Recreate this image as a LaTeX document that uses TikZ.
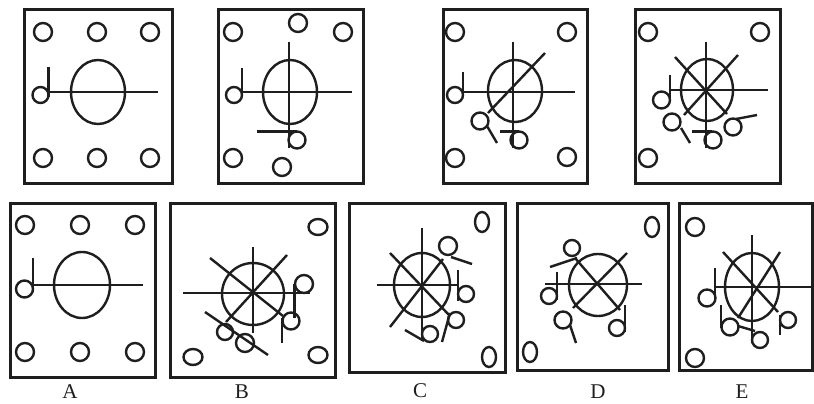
\documentclass[tikz,border=0pt]{standalone}
\usepackage{fontspec}
\setmainfont{Liberation Serif}
\begin{document}
\begin{tikzpicture}[x=1pt,y=-1pt,
  frame/.style={line width=3pt,draw=ink},
  stroke/.style={line width=2.4pt,draw=ink},
  lbl/.style={font=\fontsize{21}{22}\selectfont,text=ink,inner sep=0pt}]
\definecolor{ink}{HTML}{1E1E1E}
\useasboundingbox[fill=white] (0,0) rectangle (814,404);
% ---------- Box 1 ----------
\draw[frame] (24,10) rectangle (172,183);
\foreach \p in {(43,32),(97,32),(150,32),(43,158),(97,158),(150,158)}
  \draw[stroke] \p circle[radius=9];
\draw[stroke] (98,92) ellipse[x radius=27,y radius=32];
\draw[stroke] (48,92) -- (158,92);
\draw[stroke] (48.5,67) -- (48.5,97);
\draw[stroke] (40.5,95) circle[radius=8];
% ---------- Box 2 ----------
\draw[frame] (218,10) rectangle (363,183);
\foreach \p in {(233,32),(298,23),(343,32),(233,158),(282,167)}
  \draw[stroke] \p circle[radius=9];
\draw[stroke] (290,92) ellipse[x radius=27,y radius=32];
\draw[stroke] (242,92) -- (352,92);
\draw[stroke] (242,68) -- (242,97);
\draw[stroke] (234,95) circle[radius=8];
\draw[stroke] (289,42) -- (289,148);
\draw[stroke] (257,131.5) -- (297,131.5);
\draw[stroke] (297,140) circle[radius=8.5];
% ---------- Box 3 ----------
\draw[frame] (443,10) rectangle (587,183);
\foreach \p in {(455,32),(567,32),(455,158),(567,157)}
  \draw[stroke] \p circle[radius=9];
\draw[stroke] (515,91) ellipse[x radius=27,y radius=31];
\draw[stroke] (463,92) -- (575,92);
\draw[stroke] (463,72) -- (463,97);
\draw[stroke] (455,95) circle[radius=8];
\draw[stroke] (513,42) -- (513,148);
\draw[stroke] (500,131.5) -- (519,131.5);
\draw[stroke] (519,140) circle[radius=8.5];
\draw[stroke] (545,53) -- (488,113);
\draw[stroke] (480,121) circle[radius=8.5];
\draw[stroke] (487,126) -- (497,143);
% ---------- Box 4 ----------
\draw[frame] (635,10) rectangle (780,183);
\foreach \p in {(648,32),(760,32),(648,158)}
  \draw[stroke] \p circle[radius=9];
\draw[stroke] (707,90) ellipse[x radius=26,y radius=31];
\draw[stroke] (670,90) -- (768,90);
\draw[stroke] (670,75) -- (670,101);
\draw[stroke] (661.5,100) circle[radius=8.5];
\draw[stroke] (706,42) -- (706,148);
\draw[stroke] (692,131.5) -- (712,131.5);
\draw[stroke] (713,140) circle[radius=8.5];
\draw[stroke] (738,55) -- (684,115);
\draw[stroke] (672,122) circle[radius=8.5];
\draw[stroke] (681,128) -- (690,143);
\draw[stroke] (675,57) -- (727,114);
\draw[stroke] (733,127) circle[radius=8.5];
\draw[stroke] (736,119) -- (757,115);
% ---------- A ----------
\draw[frame] (10,203) rectangle (155,377);
\foreach \p in {(25,225),(80,225),(135,225),(25,352),(80,352),(135,352)}
  \draw[stroke] \p circle[radius=9];
\draw[stroke] (82,285) ellipse[x radius=28,y radius=33];
\draw[stroke] (33,285) -- (143,285);
\draw[stroke] (33,258) -- (33,292);
\draw[stroke] (24.5,289) circle[radius=8.5];
\node[lbl] (la) at (70,392) {A};
% ---------- B ----------
\draw[frame] (170,203) rectangle (335,377);
\foreach \p in {(318,227),(193,357),(318,355)}
  \draw[stroke] \p ellipse[x radius=9.5,y radius=8];
\draw[stroke] (253,294) circle[radius=31];
\draw[stroke] (183,293) -- (310,293);
\draw[stroke] (304,284) circle[radius=9];
\draw[stroke] (294.5,284) -- (294.5,318);
\draw[stroke] (210,258) -- (283,316);
\draw[stroke] (291,321) circle[radius=8.5];
\draw[stroke] (282,318) -- (282,343);
\draw[stroke] (287,255) -- (226,322);
\draw[stroke] (253,247) -- (253,333);
\draw[stroke] (205,312) -- (268,355);
\draw[stroke] (225,332) circle[radius=8];
\draw[stroke] (245,343) circle[radius=9];
\node[lbl] (lb) at (242,392) {B};
% ---------- C ----------
\draw[frame] (349,203) rectangle (505,372);
\foreach \p in {(482,222),(489,357)}
  \draw[stroke] \p ellipse[x radius=7,y radius=10];
\draw[stroke] (422,285) ellipse[x radius=28,y radius=32];
\draw[stroke] (377,285) -- (458,285);
\draw[stroke] (458,270) -- (458,301);
\draw[stroke] (466,294) circle[radius=8];
\draw[stroke] (422,228) -- (422,340);
\draw[stroke] (430,334) circle[radius=8];
\draw[stroke] (405,330) -- (424,341);
\draw[stroke] (390,253) -- (449,315);
\draw[stroke] (456,320) circle[radius=8];
\draw[stroke] (450,313) -- (442,342);
\draw[stroke] (390,327) -- (443,259);
\draw[stroke] (448,246) circle[radius=9];
\draw[stroke] (451,257) -- (472,264);
\node[lbl] (lc) at (420,391) {C};
% ---------- D ----------
\draw[frame] (517,203) rectangle (668,370);
\foreach \p in {(652,227),(530,352)}
  \draw[stroke] \p ellipse[x radius=7,y radius=10];
\draw[stroke] (598,285) ellipse[x radius=29,y radius=31];
\draw[stroke] (545,284) -- (642,284);
\draw[stroke] (557,272) -- (557,300);
\draw[stroke] (549,296) circle[radius=8];
\draw[stroke] (627,253) -- (573,308);
\draw[stroke] (563,320) circle[radius=8.5];
\draw[stroke] (570,325) -- (576,343);
\draw[stroke] (575,258) -- (620,310);
\draw[stroke] (617,328) circle[radius=8];
\draw[stroke] (625,305) -- (625,332);
\draw[stroke] (550,267) -- (577,258);
\draw[stroke] (572,248) circle[radius=8];
\node[lbl] (ld) at (598,392) {D};
% ---------- E ----------
\draw[frame] (679,203) rectangle (812,370);
\foreach \p in {(695,227),(695,358)}
  \draw[stroke] \p circle[radius=9];
\draw[stroke] (752,287) ellipse[x radius=27,y radius=34];
\draw[stroke] (715,287) -- (812,287);
\draw[stroke] (715,268) -- (715,299);
\draw[stroke] (707,298) circle[radius=8.5];
\draw[stroke] (752,235) -- (752,343);
\draw[stroke] (760,340) circle[radius=8];
\draw[stroke] (780,252) -- (738,318);
\draw[stroke] (730,327) circle[radius=8.5];
\draw[stroke] (721,305) -- (721,328);
\draw[stroke] (738,326) -- (755,331);
\draw[stroke] (723,252) -- (778,312);
\draw[stroke] (788,320) circle[radius=8];
\draw[stroke] (780,315) -- (780,335);
\node[lbl] (le) at (742,392) {E};
\end{tikzpicture}
\end{document}
